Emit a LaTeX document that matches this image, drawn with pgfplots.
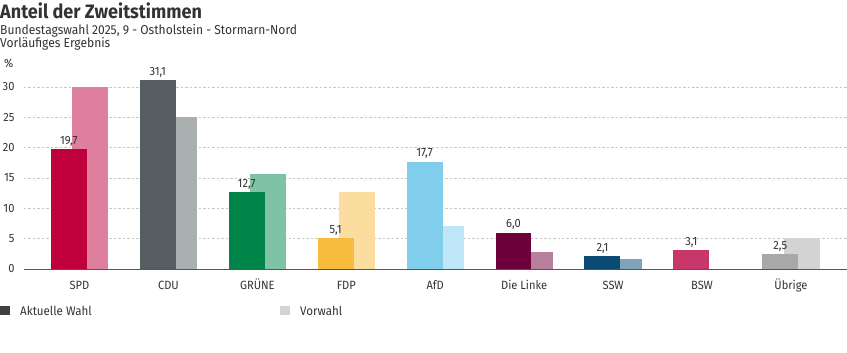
\documentclass[border=0pt]{standalone}
\usepackage{pgfplots}
\pgfplotsset{compat=1.18}
\usepackage{fontspec}
\setmainfont{Fira Sans}[FakeStretch=0.93]
\definecolor{txt}{HTML}{333333}
\definecolor{gridc}{HTML}{C8C8C8}
\definecolor{axc}{HTML}{555555}
\definecolor{spd}{HTML}{C0003C}\definecolor{spdp}{HTML}{DF7FA0}
\definecolor{cdu}{HTML}{565E62}\definecolor{cdup}{HTML}{AAAFB0}
\definecolor{gru}{HTML}{00844A}\definecolor{grup}{HTML}{7FC2A4}
\definecolor{fdp}{HTML}{F7BB3D}\definecolor{fdpp}{HTML}{FBDDA0}
\definecolor{afd}{HTML}{80CDEC}\definecolor{afdp}{HTML}{BFE6F6}
\definecolor{lin}{HTML}{6C003A}\definecolor{linp}{HTML}{B67F9C}
\definecolor{ssw}{HTML}{0B4A73}\definecolor{sswp}{HTML}{7FA3BA}
\definecolor{bsw}{HTML}{C8376A}
\definecolor{ueb}{HTML}{A8A8A8}\definecolor{uebp}{HTML}{D3D3D3}
\begin{document}
\begin{tikzpicture}[x=1bp,y=1bp]
\useasboundingbox (0,0) rectangle (847,352);
\node[anchor=base west,inner sep=0,font=\fontsize{19.5}{22}\selectfont\bfseries,text=txt] at (0,352-18.3) {Anteil der Zweitstimmen};
\node[anchor=base west,inner sep=0,font=\fontsize{13}{15}\selectfont,text=txt] at (0,352-34) {Bundestagswahl 2025, 9 - Ostholstein - Stormarn-Nord};
\node[anchor=base west,inner sep=0,font=\fontsize{13}{15}\selectfont,text=txt] at (0,352-47) {Vorläufiges Ergebnis};
\node[anchor=base west,inner sep=0,font=\fontsize{12}{14}\selectfont,text=txt] at (4,352-67) {\%};
\begin{axis}[
  at={(24bp,83bp)}, anchor=south west,
  scale only axis, width=823bp, height=206.3bp,
  xmin=-0.624, xmax=8.63, ymin=0, ymax=34,
  axis x line*=bottom, axis y line*=left,
  y axis line style={draw=none},
  x axis line style={draw=axc, line width=0.8pt, -},
  xtick={0,...,8},
  xticklabels={SPD,CDU,GRÜNE,FDP,AfD,Die Linke,SSW,BSW,Übrige},
  ytick={0,5,...,30},
  major tick length=0pt,
  ymajorgrids,
  grid style={draw=gridc, line width=0.5pt, dash pattern=on 2.5pt off 2pt},
  /pgf/number format/assume math mode=true,
  tick label style={font=\fontsize{12}{14}\selectfont, text=txt},
  yticklabel style={anchor=east, xshift=-6bp},
  xticklabel style={anchor=base, yshift=-20bp},
  prev/.style={ybar, bar width=0.404, bar shift=0pt, draw=none, fill=#1},
  cur/.style={ybar, bar width=0.404, bar shift=0pt, draw=none, fill=#1,
    nodes near coords={\pgfmathprintnumber[fixed,fixed zerofill,precision=1,use comma]{\pgfplotspointmeta}},
    every node near coord/.append style={font=\fontsize{12}{14}\selectfont, text=txt, inner sep=2.5bp}},
]
% Vorwahl (previous election), drawn behind
\addplot[prev=spdp] coordinates {(0.12,30.0)};
\addplot[prev=cdup] coordinates {(1.12,25.0)};
\addplot[prev=grup] coordinates {(2.12,15.7)};
\addplot[prev=fdpp] coordinates {(3.12,12.7)};
\addplot[prev=afdp] coordinates {(4.12,7.1)};
\addplot[prev=linp] coordinates {(5.12,2.8)};
\addplot[prev=sswp] coordinates {(6.12,1.7)};
\addplot[prev=uebp] coordinates {(8.12,5.1)};
% Aktuelle Wahl
\addplot[cur=spd] coordinates {(-0.12,19.7)};
\addplot[cur=cdu] coordinates {(0.88,31.1)};
\addplot[cur=gru] coordinates {(1.88,12.7)};
\addplot[cur=fdp] coordinates {(2.88,5.1)};
\addplot[cur=afd] coordinates {(3.88,17.7)};
\addplot[cur=lin] coordinates {(4.88,6.0)};
\addplot[cur=ssw] coordinates {(5.88,2.1)};
\addplot[cur=bsw] coordinates {(6.88,3.1)};
\addplot[cur=ueb] coordinates {(7.88,2.5)};
\end{axis}
\fill[fill=black!75] (0,352-315) rectangle (10,352-306);
\node[anchor=base west,inner sep=0,font=\fontsize{12.5}{14}\selectfont,text=txt] at (20,352-315) {Aktuelle Wahl};
\fill[fill=uebp] (280,352-315) rectangle (290,352-306);
\node[anchor=base west,inner sep=0,font=\fontsize{12.5}{14}\selectfont,text=txt] at (300,352-315) {Vorwahl};
\end{tikzpicture}
\end{document}
